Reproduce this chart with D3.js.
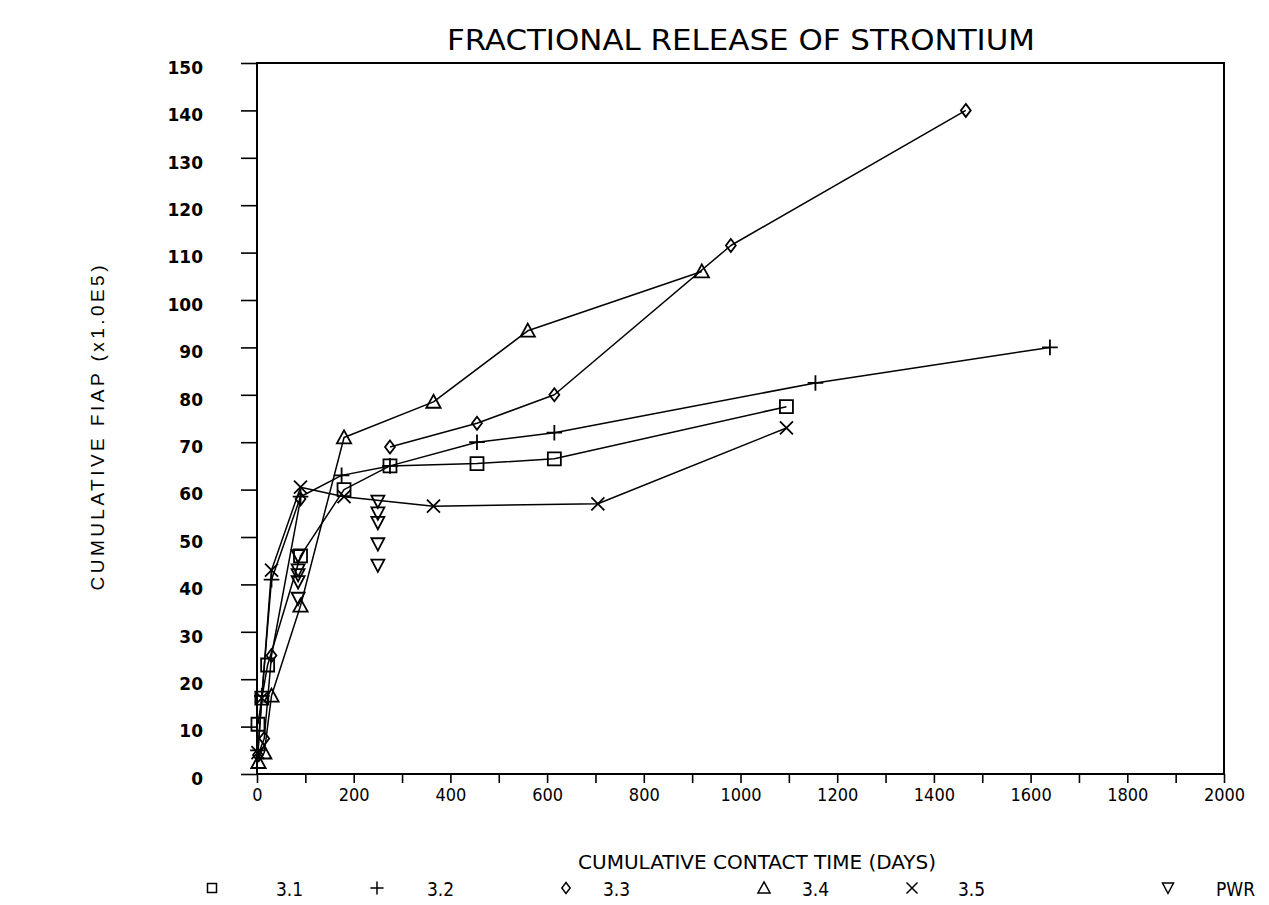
<!DOCTYPE html>
<html>
<head>
<meta charset="utf-8">
<script src="https://cdn.jsdelivr.net/npm/d3@7/dist/d3.min.js"></script>
<style>
  body { margin: 0; background: #fff; }
</style>
</head>
<body>
<div id="chart"></div>
<script>
// values: [cumulative contact time (days), cumulative FIAP (x1.0E5)]
var s31 = [[2, 10.5], [10, 16], [22, 23], [90, 46], [180, 60], [275, 65], [455, 65.5], [615, 66.5], [1095, 77.5]];
var s32 = [[2, 5], [10, 16.5], [30, 41], [90, 58.5], [175, 63], [275, 65], [455, 70], [615, 72], [1155, 82.5], [1640, 90]];
var s33 = [[2, 4], [15, 7.5], [30, 25], [90, 58], null, [275, 69], [455, 74], [615, 80], [980, 111.5], [1466, 140]];
var s34 = [[3, 2.5], [15, 4.5], [30, 16.5], [90, 35.5], [180, 71], [365, 78.5], [560, 93.5], [920, 106]];
var s35 = [[2, 4.5], [10, 16], [30, 43], [90, 60.5], [180, 58.5], [365, 56.5], [705, 57], [1095, 73]];
var sPWR = [[85, 46], [85, 43], [85, 42], [85, 40.5], [85, 37], [250, 57.5], [250, 55], [250, 53], [250, 48.5], [250, 44]];

var seriesNames = ["3.1", "3.2", "3.3", "3.4", "3.5", "PWR"];
var xTickValues = d3.range(0, 2001, 100);
var xTickLabels = [0, 200, 400, 600, 800, 1000, 1200, 1400, 1600, 1800, 2000];
var yTickValues = [0, 10, 20, 30, 40, 50, 60, 70, 80, 90, 100, 110, 120, 130, 140, 150];

var narrow = "'Liberation Sans Narrow', 'DejaVu Sans Condensed', 'Roboto Condensed', sans-serif";

// set the dimensions of the page and the plot box
var W = 1269, H = 905;
var margin = { top: 63, right: 45, bottom: 131, left: 257 },
    width = W - margin.left - margin.right,
    height = H - margin.top - margin.bottom;

var svg = d3.select("#chart")
    .append("svg")
    .attr("width", W)
    .attr("height", H);

var g = svg.append("g")
    .attr("transform", "translate(" + margin.left + "," + margin.top + ")");

var x = d3.scaleLinear().domain([0, 2000]).range([0, width]);
var y = d3.scaleLinear().domain([0, 150]).range([height, 0]);

// marker shapes, drawn hollow around (0,0)
function markerPath(type, s) {
    var p = d3.path();
    if (type === "3.1") {            // square
        p.rect(-s * 0.5, -s * 0.5, s, s);
    } else if (type === "3.2") {     // plus
        p.moveTo(-s * 0.6, 0); p.lineTo(s * 0.6, 0);
        p.moveTo(0, -s * 0.6); p.lineTo(0, s * 0.6);
    } else if (type === "3.3") {     // diamond
        p.moveTo(0, -s * 0.5); p.lineTo(s * 0.38, 0); p.lineTo(0, s * 0.5); p.lineTo(-s * 0.38, 0); p.closePath();
    } else if (type === "3.4") {     // triangle up
        p.moveTo(0, -s * 0.55); p.lineTo(s * 0.55, s * 0.45); p.lineTo(-s * 0.55, s * 0.45); p.closePath();
    } else if (type === "3.5") {     // x
        p.moveTo(-s * 0.5, -s * 0.5); p.lineTo(s * 0.5, s * 0.5);
        p.moveTo(-s * 0.5, s * 0.5); p.lineTo(s * 0.5, -s * 0.5);
    } else {                         // triangle down
        p.moveTo(0, s * 0.5); p.lineTo(s * 0.5, -s * 0.45); p.lineTo(-s * 0.5, -s * 0.45); p.closePath();
    }
    return p.toString();
}

// x axis
var xAxis = g.append("g")
    .attr("transform", "translate(0," + height + ")")
    .call(d3.axisBottom(x)
        .tickValues(xTickValues)
        .tickSize(9)
        .tickPadding(5)
        .tickFormat(function (d) { return xTickLabels.indexOf(d) >= 0 ? d : ""; }));
xAxis.select(".domain").remove();
xAxis.selectAll("line").attr("stroke", "#000").attr("stroke-width", 1.6);
xAxis.selectAll("text")
    .style("font-family", narrow)
    .style("font-size", "18px")
    .attr("fill", "#000");

// y axis
var yAxis = g.append("g")
    .call(d3.axisLeft(y)
        .tickValues(yTickValues)
        .tickSize(16)
        .tickPadding(38));
yAxis.select(".domain").remove();
yAxis.selectAll("line").attr("stroke", "#000").attr("stroke-width", 1.6);
yAxis.selectAll("text")
    .attr("dy", "0.9em")
    .attr("y", -5)
    .style("font-family", "'DejaVu Sans', sans-serif")
    .style("font-weight", "bold")
    .style("font-size", "17px")
    .attr("fill", "#000");

// plot frame
g.append("rect")
    .attr("x", 0).attr("y", 0)
    .attr("width", width).attr("height", height)
    .attr("fill", "none")
    .attr("stroke", "#000")
    .attr("stroke-width", 2);

// series lines and markers
var allSeries = [s31, s32, s33, s34, s35, sPWR];
var line = d3.line()
    .defined(function (d) { return d != null; })
    .x(function (d) { return x(d[0]); })
    .y(function (d) { return y(d[1]); });

allSeries.forEach(function (data, i) {
    var name = seriesNames[i];
    if (name !== "PWR") {
        g.append("path")
            .datum(data)
            .attr("fill", "none")
            .attr("stroke", "#000")
            .attr("stroke-width", 1.5)
            .attr("stroke-linejoin", "round")
            .attr("d", line);
    }
    g.selectAll(".m" + i)
        .data(data.filter(function (d) { return d != null; }))
        .enter()
        .append("path")
        .attr("class", "m" + i)
        .attr("transform", function (d) { return "translate(" + x(d[0]) + "," + y(d[1]) + ")"; })
        .attr("d", markerPath(name, 13))
        .attr("fill", "none")
        .attr("stroke", "#000")
        .attr("stroke-width", 1.8);
});

// title
svg.append("text")
    .text("FRACTIONAL RELEASE OF STRONTIUM")
    .attr("x", 741)
    .attr("y", 50)
    .attr("text-anchor", "middle")
    .attr("textLength", 588)
    .attr("lengthAdjust", "spacingAndGlyphs")
    .style("font-family", narrow)
    .style("font-size", "28px");

// x axis label
svg.append("text")
    .text("CUMULATIVE CONTACT TIME (DAYS)")
    .attr("x", 757)
    .attr("y", 869)
    .attr("text-anchor", "middle")
    .attr("textLength", 358)
    .attr("lengthAdjust", "spacingAndGlyphs")
    .style("font-family", narrow)
    .style("font-size", "19px");

// y axis label
svg.append("text")
    .text("CUMULATIVE FIAP  (x1.0E5)")
    .attr("transform", "translate(104,428) rotate(-90)")
    .attr("text-anchor", "middle")
    .attr("textLength", 325)
    .attr("lengthAdjust", "spacing")
    .style("font-family", "'Liberation Sans', Arial, sans-serif")
    .style("font-size", "19px");

// legend along the bottom
var legendSymX = [212, 377, 566, 764, 912, 1168];
var legendTxtX = [276, 427, 603, 802, 958, 1216];
seriesNames.forEach(function (name, i) {
    svg.append("path")
        .attr("transform", "translate(" + legendSymX[i] + ",888)")
        .attr("d", markerPath(name, name === "3.1" ? 9 : 11))
        .attr("fill", "none")
        .attr("stroke", "#000")
        .attr("stroke-width", 1.5);
    svg.append("text")
        .text(name)
        .attr("x", legendTxtX[i])
        .attr("y", 896)
        .style("font-family", narrow)
        .style("font-size", "19px");
});
</script>
</body>
</html>
